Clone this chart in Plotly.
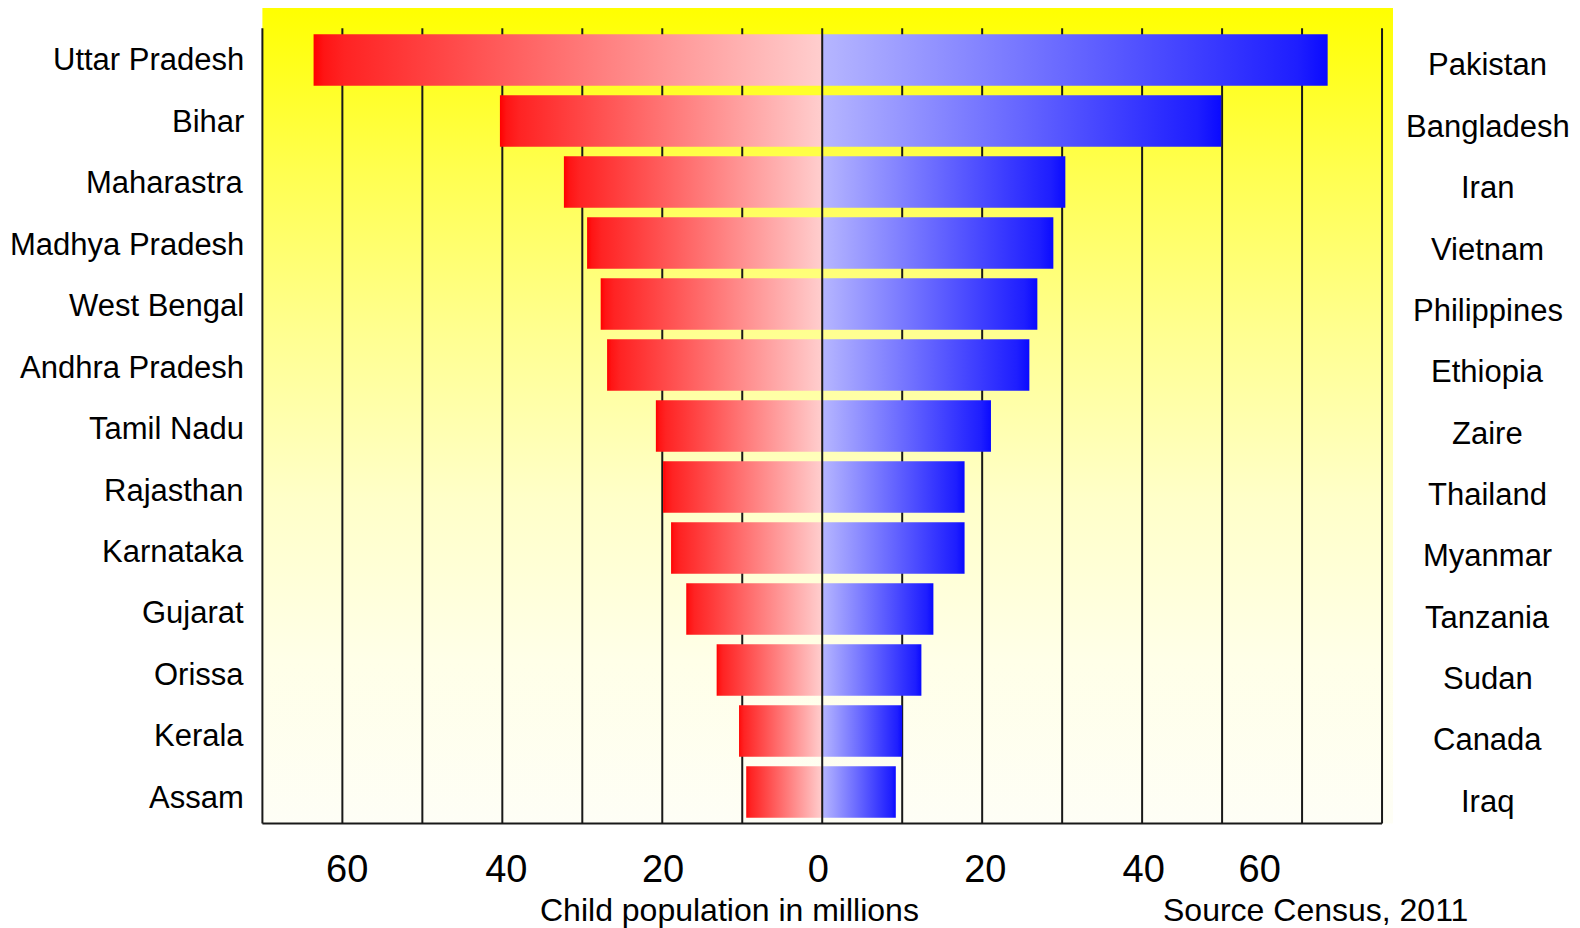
import plotly.graph_objects as go

# ---------------- data ----------------
states = ["Uttar Pradesh", "Bihar", "Maharastra", "Madhya Pradesh", "West Bengal",
          "Andhra Pradesh", "Tamil Nadu", "Rajasthan", "Karnataka", "Gujarat",
          "Orissa", "Kerala", "Assam"]
state_values = [63.6, 40.3, 32.3, 29.4, 27.7, 26.9, 20.8, 19.9, 18.9, 17.0, 13.2, 10.4, 9.5]

countries = ["Pakistan", "Bangladesh", "Iran", "Vietnam", "Philippines", "Ethiopia",
             "Zaire", "Thailand", "Myanmar", "Tanzania", "Sudan", "Canada", "Iraq"]
country_values = [63.2, 49.9, 30.4, 28.9, 26.9, 25.9, 21.1, 17.8, 17.8, 13.9, 12.4, 10.0, 9.2]

grid_values = [-70, -60, -50, -40, -30, -20, -10, 10, 20, 30, 40, 50, 60, 70]
tick_positions = [-59.4, -39.5, -19.9, -0.5, 20.4, 40.2, 54.7]
tick_labels = ["60", "40", "20", "0", "20", "40", "60"]

x_title = "Child population in millions"
source_note = "Source Census, 2011"

# ---------------- style ----------------
FONT = "Liberation Sans, Arial, sans-serif"
n = len(states)
BAR_H = 0.845
Y_BOTTOM_LINE = -0.516
Y_GRID_TOP = 12.52
Y_TOP = 12.852
X_LEFT = -70.0
X_RIGHT = 71.37

red_scale = [[0, "rgb(255,0,0)"], [0.02, "rgb(255,20,20)"], [0.06, "rgb(255,35,35)"],
             [1, "rgb(255,206,206)"]]
blue_scale = [[0, "rgb(182,182,255)"], [0.94, "rgb(30,30,255)"], [1, "rgb(10,10,255)"]]
bg_scale = [[0, "rgb(254,254,246)"], [0.2, "rgb(255,255,232)"], [0.4, "rgb(255,255,200)"],
            [0.6, "rgb(255,255,145)"], [0.8, "rgb(255,255,80)"], [1, "rgb(255,255,0)"]]

fig = go.Figure()

# background gradient
fig.add_trace(go.Scatter(
    x=[X_LEFT, X_RIGHT, X_RIGHT, X_LEFT, X_LEFT],
    y=[Y_BOTTOM_LINE, Y_BOTTOM_LINE, Y_TOP, Y_TOP, Y_BOTTOM_LINE],
    mode="lines", line=dict(width=0), fill="toself",
    fillgradient=dict(type="vertical", colorscale=bg_scale),
    hoverinfo="skip", showlegend=False))

# grid lines (behind bars)
gx, gy = [], []
for g in grid_values:
    gx += [g, g, None]
    gy += [Y_BOTTOM_LINE, Y_GRID_TOP, None]
fig.add_trace(go.Scatter(x=gx, y=gy, mode="lines",
                         line=dict(color="rgb(25,25,25)", width=2),
                         hoverinfo="skip", showlegend=False))
# bottom axis line
fig.add_trace(go.Scatter(x=[-70, 70], y=[Y_BOTTOM_LINE, Y_BOTTOM_LINE], mode="lines",
                         line=dict(color="rgb(25,25,25)", width=2),
                         hoverinfo="skip", showlegend=False))

# bars
for i in range(n):
    yc = n - 1 - i
    y0, y1 = yc - BAR_H / 2, yc + BAR_H / 2
    v = state_values[i]
    fig.add_trace(go.Scatter(
        x=[-v, 0, 0, -v, -v], y=[y0, y0, y1, y1, y0],
        mode="lines", line=dict(width=0), fill="toself",
        fillgradient=dict(type="horizontal", colorscale=red_scale),
        name=states[i], showlegend=False))
    w = country_values[i]
    fig.add_trace(go.Scatter(
        x=[0, w, w, 0, 0], y=[y0, y0, y1, y1, y0],
        mode="lines", line=dict(width=0), fill="toself",
        fillgradient=dict(type="horizontal", colorscale=blue_scale),
        name=countries[i], showlegend=False))

# zero line on top
fig.add_trace(go.Scatter(x=[0, 0], y=[Y_BOTTOM_LINE, Y_GRID_TOP], mode="lines",
                         line=dict(color="rgb(25,25,25)", width=2),
                         hoverinfo="skip", showlegend=False))

# page offset (browser body margin is 8 px)
OFF = 8
FIG_W, FIG_H = 1580 - OFF, 928 - OFF
L, R, T, B = 260 - OFF, 187, 0, 100
W = FIG_W - L - R

annotations = []
for i in range(n):
    yc = n - 1 - i
    annotations.append(dict(
        x=0, xref="paper", y=yc, yref="y", xanchor="right", yanchor="middle",
        xshift=-14, yshift=-0.43 * i, text=states[i], showarrow=False,
        font=dict(family=FONT, size=31, color="black")))
    annotations.append(dict(
        x=(1487.5 - OFF - L) / W, xref="paper", y=yc, yref="y",
        xanchor="center", yanchor="middle",
        yshift=-5 - 0.36 * i, text=countries[i], showarrow=False,
        font=dict(family=FONT, size=31, color="black")))

for txt, px in [(x_title, 729), (source_note, 1315.5)]:
    annotations.append(dict(x=(px - OFF - L) / W, xref="paper", y=0, yref="paper",
                            xanchor="center", yanchor="middle", yshift=-82,
                            text=txt, showarrow=False,
                            font=dict(family=FONT, size=32, color="black")))

fig.update_layout(
    width=FIG_W, height=FIG_H,
    margin=dict(l=L, r=R, t=T, b=B, pad=0),
    paper_bgcolor="white", plot_bgcolor="white",
    font=dict(family=FONT, color="black"),
    xaxis=dict(range=[-70.3, X_RIGHT], showgrid=False, zeroline=False, showline=False,
               tickvals=tick_positions, ticktext=tick_labels, ticks="",
               tickfont=dict(family=FONT, size=38, color="black"),
               ticklabelstandoff=15, fixedrange=True),
    yaxis=dict(range=[-0.590, Y_TOP], showgrid=False, zeroline=False, showline=False,
               showticklabels=False, fixedrange=True),
    annotations=annotations,
    showlegend=False,
)

fig.write_html("out.html")
